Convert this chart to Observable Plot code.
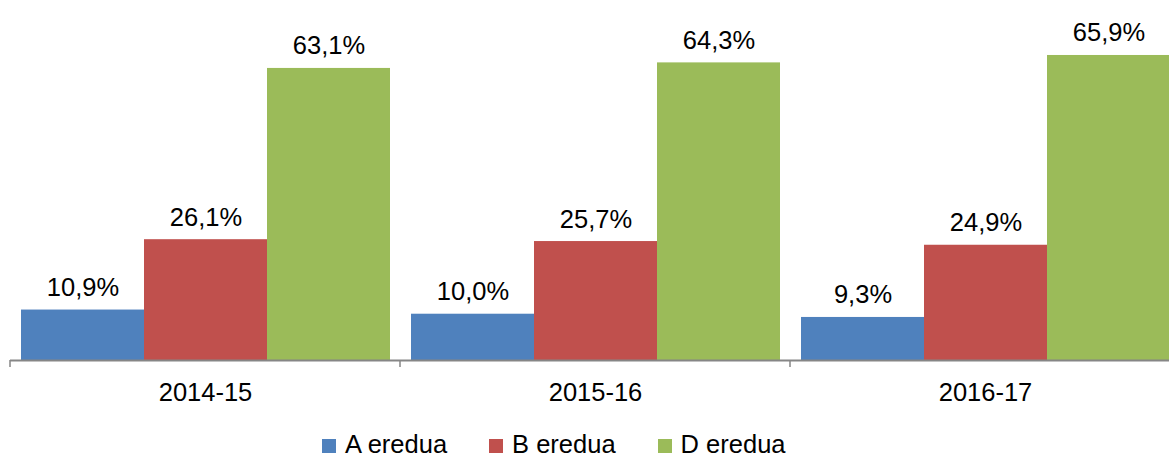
<!DOCTYPE html>
<html>
<head>
<meta charset="utf-8">
<script src="https://cdn.jsdelivr.net/npm/d3@7"></script>
<script src="https://cdn.jsdelivr.net/npm/@observablehq/plot@0.6"></script>
<style>
html, body { margin: 0; padding: 0; background: #fff; overflow: hidden; width: 1169px; height: 456px; }
body { position: relative; font-family: "Liberation Sans", Arial, sans-serif; }
#chart { position: absolute; left: 0; top: 0; width: 1180px; }
#chart svg { max-width: none !important; width: 1180px !important; height: 420px !important; }
#legend { position: absolute; left: 322px; top: 432px; display: flex; gap: 42px; font-size: 25.5px; line-height: 25px; color: #000; white-space: nowrap; }
#legend .item { display: flex; align-items: baseline; gap: 9px; }
#legend .sw { display: inline-block; width: 14px; height: 14px; }
</style>
</head>
<body>
<div id="chart"></div>
<div id="legend"></div>
<script>
const groups = ["2014-15", "2015-16", "2016-17"];
const series = ["A eredua", "B eredua", "D eredua"];
const valuesA = [10.9, 10.0, 9.3];
const valuesB = [26.1, 25.7, 24.9];
const valuesD = [63.1, 64.3, 65.9];
const colors = ["#4F81BD", "#C0504D", "#9BBB59"];

const seriesValues = [valuesA, valuesB, valuesD];
const data = groups.flatMap((g, i) => series.map((s, j) => ({group: g, series: s, value: seriesValues[j][i]})));
const fmt = v => v.toFixed(1).replace(".", ",") + "%";

// small tick at the left edge of each category band
const boundaryTick = (index, scales, values, dimensions) => {
  const y0 = scales.y(0);
  return d3.create("svg:line")
    .attr("x1", dimensions.marginLeft).attr("x2", dimensions.marginLeft)
    .attr("y1", y0).attr("y2", y0 + 7)
    .attr("stroke", "#868686").attr("stroke-width", 1.5)
    .node();
};

const chart = Plot.plot({
  width: 1180,
  height: 420,
  marginLeft: 10,
  marginRight: 0,
  marginTop: 36,
  marginBottom: 60,
  style: {fontFamily: '"Liberation Sans", Arial, sans-serif', fontSize: "25.5px", background: "white", color: "#000", maxWidth: "none"},
  fx: {domain: groups, padding: 0, label: null},
  x: {domain: series, paddingInner: 0, paddingOuter: 0.08, axis: null},
  y: {domain: [0, 70], axis: null},
  color: {domain: series, range: colors},
  marks: [
    Plot.barY(data, {fx: "group", x: "series", y: "value", fill: "series"}),
    Plot.text(data, {fx: "group", x: "series", y: "value", text: d => fmt(d.value), lineAnchor: "bottom", dy: -14, fontSize: 25.5, fill: "#000"}),
    Plot.ruleY([0], {stroke: "#868686", strokeWidth: 2}),
    boundaryTick,
    Plot.axisFx({anchor: "bottom", tickSize: 0, tickPadding: 22, fontSize: 25.5, label: null, fill: "#000"})
  ]
});
document.getElementById("chart").appendChild(chart);

const legend = document.getElementById("legend");
series.forEach((s, j) => {
  const item = document.createElement("div");
  item.className = "item";
  const sw = document.createElement("span");
  sw.className = "sw";
  sw.style.background = colors[j];
  const label = document.createElement("span");
  label.textContent = s;
  item.appendChild(sw);
  item.appendChild(label);
  legend.appendChild(item);
});
</script>
</body>
</html>
